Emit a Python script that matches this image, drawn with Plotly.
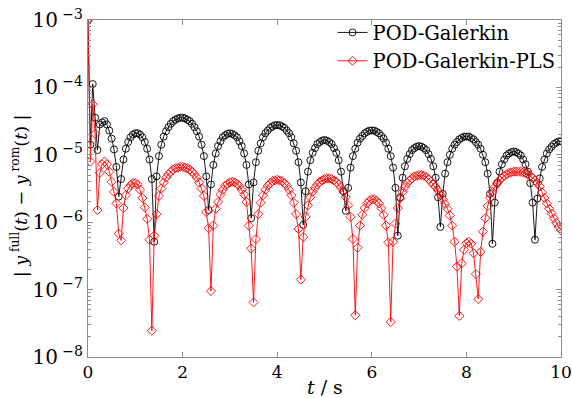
import plotly.graph_objects as go

# time grid (s), step 0.05
t = [round(0.05 * i, 2) for i in range(201)]

# log10 of |y_full - y_rom|
pod_galerkin_log10 = [
    -3.00, -4.85, -3.95, -4.45, -4.93, -4.55, -4.52, -4.50, -4.55, -4.64, -4.76, -4.92, -5.18, -5.62,
    -5.36, -5.07, -4.91, -4.81, -4.74, -4.70, -4.68, -4.68, -4.70, -4.74, -4.81, -4.91, -5.07, -5.36,
    -6.29,
    -5.32, -5.02, -4.85, -4.73, -4.65, -4.59, -4.54, -4.50, -4.48, -4.46, -4.45, -4.45, -4.46, -4.48,
    -4.50, -4.54, -4.59, -4.65, -4.73, -4.85, -5.02, -5.32,
    -5.82,
    -5.44, -5.15, -4.98, -4.87, -4.80, -4.74, -4.71, -4.69, -4.68, -4.69, -4.71, -4.74, -4.80, -4.87,
    -4.98, -5.15, -5.44,
    -5.94,
    -5.41, -5.11, -4.94, -4.83, -4.74, -4.68, -4.64, -4.60, -4.58, -4.56, -4.56, -4.56, -4.58, -4.60,
    -4.64, -4.68, -4.74, -4.83, -4.94, -5.11, -5.41,
    -6.04,
    -5.54, -5.25, -5.08, -4.97, -4.90, -4.84, -4.81, -4.79, -4.78, -4.79, -4.81, -4.84, -4.90, -4.97,
    -5.08, -5.25, -5.54,
    -5.83,
    -5.49, -5.19, -5.02, -4.91, -4.82, -4.76, -4.72, -4.68, -4.66, -4.64, -4.64, -4.64, -4.66, -4.68,
    -4.72, -4.76, -4.82, -4.91, -5.02, -5.19, -5.49,
    -6.20,
    -5.63, -5.34, -5.17, -5.06, -4.99, -4.93, -4.90, -4.88, -4.87, -4.88, -4.90, -4.93, -4.99, -5.06,
    -5.17, -5.34, -5.63,
    -6.07,
    -5.58, -5.28, -5.11, -5.00, -4.91, -4.85, -4.81, -4.77, -4.75, -4.73, -4.73, -4.73, -4.75, -4.77,
    -4.81, -4.85, -4.91, -5.00, -5.11, -5.28, -5.58,
    -6.32,
    -5.71, -5.42, -5.25, -5.14, -5.07, -5.01, -4.98, -4.96, -4.95, -4.96, -4.98, -5.01, -5.07, -5.14,
    -5.25, -5.42, -5.71,
    -6.26,
    -5.65, -5.35, -5.18, -5.07, -4.98, -4.92, -4.88, -4.84, -4.82, -4.80, -4.80,
]

pod_pls_log10 = [
    -3.00, -5.10, -4.25, -4.69, -5.82, -5.27, -5.14, -5.10, -5.14, -5.25, -5.40, -5.55, -5.72, -6.17, -6.27,
    -5.79, -5.60, -5.50, -5.45, -5.42, -5.42, -5.44, -5.52, -5.64, -5.78, -5.95, -6.26, -7.61,
    -6.20, -5.88, -5.61, -5.50, -5.41, -5.34, -5.29, -5.25, -5.22, -5.20, -5.19, -5.18, -5.18, -5.19,
    -5.20, -5.22, -5.25, -5.29, -5.34, -5.41, -5.50, -5.61, -5.85, -6.09, -7.02,
    -6.05, -5.80, -5.70, -5.59, -5.52, -5.46, -5.43, -5.41, -5.40, -5.41, -5.43, -5.46, -5.52, -5.59,
    -5.70, -6.05, -6.39, -7.19,
    -6.25, -5.88, -5.71, -5.60, -5.52, -5.46, -5.42, -5.39, -5.38, -5.37, -5.38, -5.39, -5.42, -5.46,
    -5.52, -5.60, -5.71, -5.88, -6.10, -6.85,
    -6.22, -5.92, -5.75, -5.63, -5.55, -5.49, -5.44, -5.40, -5.38, -5.36, -5.35, -5.35, -5.36, -5.38,
    -5.40, -5.44, -5.49, -5.55, -5.63, -5.75, -5.92, -6.25, -7.38,
    -6.38, -6.05, -5.89, -5.79, -5.72, -5.68, -5.66, -5.66, -5.68, -5.72, -5.79, -5.89, -6.05, -6.30, -7.48,
    -6.29, -6.02, -5.79, -5.65, -5.55, -5.48, -5.42, -5.38, -5.35, -5.32, -5.31, -5.30, -5.30, -5.31,
    -5.33, -5.36, -5.40, -5.44, -5.48, -5.53, -5.59, -5.66, -5.73, -5.80, -5.90, -6.05, -6.29, -6.66,
    -7.39, -6.61, -6.41, -6.31, -6.29, -6.32, -6.46, -6.77, -7.14, -6.44, -6.14, -5.94, -5.76, -5.64,
    -5.55, -5.48, -5.42, -5.38, -5.34, -5.31, -5.29, -5.27, -5.26, -5.25, -5.25, -5.25, -5.25, -5.26,
    -5.27, -5.29, -5.31, -5.34, -5.38, -5.42, -5.47, -5.56, -5.64, -5.72, -5.80, -5.87, -5.94, -6.01,
    -6.07, -6.12,
]

series_names = ["POD-Galerkin", "POD-Galerkin-PLS"]
x_tick_vals = [0, 2, 4, 6, 8, 10]
y_tick_exponents = [-8, -7, -6, -5, -4, -3]

pod_galerkin = [10 ** v for v in pod_galerkin_log10]
pod_pls = [10 ** v for v in pod_pls_log10]

FONT = "DejaVu Serif"
AXIS_COLOR = "#8c8c8c"

fig = go.Figure()
fig.add_trace(go.Scatter(
    x=t[:len(pod_galerkin)], y=pod_galerkin, name=series_names[0], mode="lines+markers",
    line=dict(color="black", width=0.9),
    marker=dict(symbol="circle-open", size=7, color="black", line=dict(width=0.9)),
))
fig.add_trace(go.Scatter(
    x=t[:len(pod_pls)], y=pod_pls, name=series_names[1], mode="lines+markers",
    line=dict(color="#ff0000", width=0.9),
    marker=dict(symbol="diamond-open", size=7, color="#ff0000", line=dict(width=0.9)),
))

minor_vals = [m * 10.0 ** e for e in range(-8, -3) for m in range(2, 10)]

fig.update_xaxes(
    range=[0, 10], tickvals=x_tick_vals, ticktext=[str(v) for v in x_tick_vals],
    ticks="inside", ticklen=5, tickcolor=AXIS_COLOR, showline=True, linecolor=AXIS_COLOR,
    linewidth=1, mirror="ticks", showgrid=False, zeroline=False,
    ticklabeloverflow="allow",
    tickfont=dict(family=FONT, size=17, color="black"),
)
fig.update_yaxes(
    type="log", range=[-8, -3],
    tickvals=[10.0 ** e for e in y_tick_exponents],
    ticktext=["10<sup> \u2212%d</sup>" % (-e) for e in y_tick_exponents],
    ticks="inside", ticklen=5, tickcolor=AXIS_COLOR, showline=True, linecolor=AXIS_COLOR,
    linewidth=1, mirror="allticks", showgrid=False, zeroline=False,
    ticklabeloverflow="allow",
    tickfont=dict(family=FONT, size=20, color="black"),
    minor=dict(tickmode="array", tickvals=minor_vals, ticks="inside", ticklen=3,
               tickcolor=AXIS_COLOR, showgrid=False),
)

fig.update_layout(
    width=572, height=398,
    margin=dict(l=88, r=11, t=20, b=41, autoexpand=False),
    paper_bgcolor="white", plot_bgcolor="white",
    font=dict(family=FONT, size=18, color="black"),
    showlegend=True,
    legend=dict(x=0.517, y=1.02, xanchor="left", yanchor="top", bgcolor="rgba(0,0,0,0)",
                font=dict(family=FONT, size=19.5, color="black"), itemwidth=30,
                tracegroupgap=0),
    annotations=[
        dict(text="<i>t</i> / s", xref="paper", yref="paper", x=0.5, y=-0.09,
             xanchor="center", yanchor="middle", showarrow=False,
             font=dict(family=FONT, size=19, color="black")),
        dict(text="| <i>y</i><sup> full</sup>(<i>t</i>) \u2212 <i>y</i><sup> rom</sup>(<i>t</i>) |",
             xref="paper", yref="paper", x=-0.145, y=0.478, textangle=-90,
             xanchor="center", yanchor="middle", showarrow=False,
             font=dict(family=FONT, size=17.5, color="black")),
    ],
)

fig.write_html("out.html")
